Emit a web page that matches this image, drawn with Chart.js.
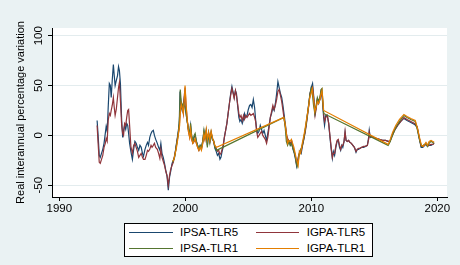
<!DOCTYPE html>
<html>
<head>
<meta charset="utf-8">
<script src="https://cdn.jsdelivr.net/npm/chart.js@4.4.0/dist/chart.umd.min.js"></script>
<style>
  html, body { margin: 0; padding: 0; background: #eaf2f3; }
  #wrap { position: relative; width: 460px; height: 265px; background: #eaf2f3; }
  #legend { position: absolute; left: 124px; top: 222.5px; width: 249px; height: 34.5px;
            box-sizing: border-box; border: 1px solid #000; background: #fff; }
  .lg-line { position: absolute; height: 0; border-top: 1.2px solid; }
  .lg-text { position: absolute; font: 11.5px "Liberation Sans", Arial, sans-serif;
             line-height: 13px; color: #000; white-space: nowrap; }
</style>
</head>
<body>
<div id="wrap">
  <canvas id="chart" width="460" height="265"></canvas>
  <div id="legend"></div>
</div>
<script>
// series names and colours (Stata s2color)
const seriesLabels = ["IPSA-TLR5", "IGPA-TLR5", "IPSA-TLR1", "IGPA-TLR1"];
const seriesColors = ["#1a476f", "#90353b", "#55752f", "#e37e00"];

const xTicks = [1990, 2000, 2010, 2020];
const yTicks = [-50, 0, 50, 100];
const yTitle = "Real interannual percentage variation";

// TLR5 dates (years) and values
const yearsTLR5 = [
  1993.00, 1993.08, 1993.17, 1993.25, 1993.35, 1993.45, 1993.55, 1993.65, 1993.72, 1993.80,
  1993.88, 1993.97, 1994.05, 1994.12, 1994.20, 1994.29, 1994.36, 1994.43, 1994.52, 1994.62,
  1994.70, 1994.77, 1994.85, 1994.95, 1995.03, 1995.10, 1995.18, 1995.27, 1995.35, 1995.43,
  1995.50, 1995.58, 1995.68, 1995.80, 1995.90, 1996.00, 1996.10, 1996.20, 1996.30, 1996.40,
  1996.50, 1996.60, 1996.68, 1996.80, 1996.90, 1997.00, 1997.08, 1997.18, 1997.28, 1997.36,
  1997.46, 1997.55, 1997.65, 1997.78, 1997.88, 1997.98, 1998.06, 1998.15, 1998.25, 1998.35,
  1998.45, 1998.55, 1998.65, 1998.75, 1998.84, 1998.95, 1999.05, 1999.15, 1999.25, 1999.35,
  1999.45, 1999.52, 1999.58, 1999.66, 1999.75, 1999.85, 1999.92, 1999.98, 2000.06, 2000.15,
  2000.25, 2000.35, 2000.42, 2000.50, 2000.60, 2000.70, 2000.78, 2000.88, 2000.98, 2001.08,
  2001.18, 2001.28, 2001.38, 2001.48, 2001.56, 2001.66, 2001.75, 2001.85, 2001.95, 2002.05,
  2002.15, 2002.25, 2002.35, 2002.45, 2002.55, 2002.65, 2002.75, 2002.83, 2002.92, 2003.00,
  2003.10, 2003.20, 2003.30, 2003.40, 2003.50, 2003.60, 2003.70, 2003.78, 2003.88, 2003.98,
  2004.06, 2004.15, 2004.25, 2004.33, 2004.42, 2004.52, 2004.62, 2004.70, 2004.80, 2004.90,
  2005.00, 2005.10, 2005.20, 2005.30, 2005.40, 2005.50, 2005.58, 2005.66, 2005.75, 2005.85,
  2005.95, 2006.05, 2006.15, 2006.25, 2006.35, 2006.45, 2006.55, 2006.65, 2006.75, 2006.85,
  2006.95, 2007.05, 2007.15, 2007.25, 2007.35, 2007.45, 2007.55, 2007.65, 2007.75, 2007.85,
  2007.95, 2008.05, 2008.15, 2008.25, 2008.35, 2008.45, 2008.55, 2008.65, 2008.75, 2008.84,
  2008.92, 2009.00, 2009.10, 2009.20, 2009.30, 2009.40, 2009.50, 2009.60, 2009.70, 2009.80,
  2009.90, 2010.00, 2010.10, 2010.20, 2010.30, 2010.38, 2010.48, 2010.58, 2010.68, 2010.78,
  2010.88, 2010.98, 2011.05, 2011.15, 2011.27, 2011.38, 2011.48, 2011.58, 2011.67, 2011.75,
  2011.85, 2011.95, 2012.05, 2012.14, 2012.24, 2012.33, 2012.42, 2012.50, 2012.60, 2012.68,
  2012.76, 2012.86, 2012.96, 2013.06, 2013.18, 2013.30, 2013.42, 2013.55, 2013.65, 2013.75,
  2013.87, 2014.00, 2014.15, 2014.30, 2014.45, 2014.55, 2014.60, 2014.68, 2014.80, 2014.95,
  2015.15, 2015.40, 2015.65, 2015.90, 2016.10, 2016.24, 2016.40, 2016.60, 2016.85, 2017.10,
  2017.35, 2017.60, 2017.90, 2018.20, 2018.40, 2018.55, 2018.72, 2018.85, 2019.00, 2019.10,
  2019.22, 2019.35, 2019.50, 2019.65, 2019.75
];
const ipsaTLR5 = [
  15, 0, -20, -22, -18, -14, -8, 2, 9, 4,
  28, 52, 50, 38, 55, 71, 60, 50, 55, 60,
  69, 65, 52, 15, -2, 5, 10, 6, 12, 10,
  2, -8, -16, -24, -14, -6, -8, -12, -15, -10,
  -12, -18, -21, -14, -10, -7, -10, -2, 2, 4,
  5, 0, -4, -8, -12, -15, -8, -18, -22, -28,
  -35, -41, -55, -42, -36, -28, -25, -22, -12, -4,
  5, 12, 44, 30, 25, 32, 38, 30, 22, 14,
  6, 2, 10, 0, -6, -2, 0, -6, -10, -14,
  -10, -12, -6, 4, -2, 4, -10, 2, -6, 2,
  -4, -6, -13, -16, -20, -18, -24, -22, -16, -12,
  -2, 5, 12, 22, 32, 42, 49, 44, 38, 45,
  42, 30, 18, 14, 16, 12, 16, 22, 18, 20,
  26, 30, 31, 28, 36, 28, 16, 6, 2, 4,
  10, 6, 2, 5, 0, -5, 2, 10, 18, 22,
  28, 25, 32, 42, 54, 48, 42, 38, 30, 20,
  10, -2, -8, -6, -10, -8, -14, -18, -24, -31,
  -26, -20, -16, -18, -10, -4, 4, 12, 22, 32,
  42, 48, 52, 38, 22, 28, 36, 32, 36, 44,
  36, 18, 10, 20, 20, 12, -2, -14, -23, -16,
  -20, -12, -6, -5, -12, -15, -10, -12, -6, 3,
  -5, -6, -5, -7, -8, -10, -12, -17, -14, -14,
  -13, -12, -12, -11, -10, -2, 5, -2, -1, -2,
  -3, -4, -5, -5, -6, -6, 0, 5, 10, 14,
  17, 15, 13, 11, 8, -2, -12, -12, -10, -9,
  -11, -10, -10, -9, -8
];
const igpaTLR5 = [
  10, -8, -27, -28, -24, -20, -12, -8, -3, -6,
  15, 22, 20, 25, 30, 38, 28, 20, 26, 38,
  48, 53, 35, 10, 2, 0, 12, 10, 18, 25,
  26, 10, -11, -18, -10, -8, -12, -16, -22, -20,
  -18, -22, -24, -24, -20, -15, -16, -14, -10, -12,
  -10, -8, -12, -14, -18, -23, -14, -22, -26, -30,
  -36, -40, -50, -40, -34, -30, -27, -20, -14, -5,
  2, 8, 24, 28, 30, 22, 40, 48, 30, 16,
  4, -2, 5, -4, -8, -6, -4, -8, -12, -15,
  -12, -14, -8, 1, -4, 5, -4, 2, -5, 3,
  -3, -6, -11, -13, -16, -15, -19, -18, -14, -10,
  -2, 5, 12, 22, 32, 40, 47, 43, 37, 45,
  40, 32, 22, 18, 20, 15, 20, 16, 20, 18,
  20, 22, 20, 21, 22, 18, 14, 4, -2, 0,
  2, 4, 0, -2, -4, -8, -2, 8, 18, 24,
  30, 26, 30, 36, 44, 46, 40, 34, 25, 16,
  8, 0, -4, -6, -8, -6, -12, -16, -22, -29,
  -26, -20, -18, -15, -10, -4, 2, 10, 20, 30,
  42, 46, 48, 36, 20, 26, 36, 34, 36, 44,
  38, 22, 14, 18, 20, 12, 0, -12, -22, -18,
  -18, -10, -5, -4, -10, -14, -10, -10, -6, 4,
  -5, -6, -5, -7, -8, -10, -12, -16, -14, -13,
  -13, -12, -11, -11, -10, -4, 3, -2, -1, -2,
  -3, -4, -5, -5, -6, -6, -1, 5, 10, 14,
  18, 16, 14, 12, 9, -1, -11, -11, -10, -8,
  -10, -10, -9, -9, -8
];

// TLR1 dates (with two gaps) and values
const yearsTLR1 = [
  1999.00, 1999.10, 1999.20, 1999.30, 1999.40, 1999.48, 1999.55, 1999.60, 1999.67, 1999.75,
  1999.84, 1999.92, 1999.98, 2000.06, 2000.15, 2000.25, 2000.35, 2000.42, 2000.50, 2000.60,
  2000.70, 2000.78, 2000.88, 2000.98, 2001.08, 2001.18, 2001.28, 2001.38, 2001.48, 2001.56,
  2001.66, 2001.75, 2001.85, 2001.95, 2002.05, 2002.15, 2002.25, 2002.35, 2002.48, 2007.82,
  2007.92, 2008.02, 2008.12, 2008.22, 2008.32, 2008.42, 2008.52, 2008.62, 2008.72, 2008.82,
  2008.88, 2008.96, 2009.05, 2009.15, 2009.25, 2009.38, 2009.50, 2009.62, 2009.75, 2009.88,
  2009.98, 2010.08, 2010.18, 2010.28, 2010.38, 2010.48, 2010.58, 2010.68, 2010.78, 2010.85,
  2010.98, 2016.10, 2016.24, 2016.45, 2016.70, 2017.00, 2017.35, 2017.60, 2017.90, 2018.25,
  2018.45, 2018.62, 2018.75, 2018.88, 2019.00, 2019.10, 2019.22, 2019.35, 2019.50, 2019.62,
  2019.75
];
const ipsaTLR1 = [
  -27, -24, -18, -10, -2, 6, 20, 46, 35, 28,
  32, 30, 28, 22, 14, 6, 2, 12, 0, -6,
  0, 2, -6, -10, -14, -10, -12, -6, 5, -2,
  4, -12, 2, -7, 3, -4, -5, -12, -15, 18,
  10, -6, -10, -6, -10, -8, -12, -16, -20, -28,
  -31, -26, -18, -14, -12, -4, 4, 14, 26, 40,
  47, 42, 30, 22, 30, 38, 34, 38, 46, 47,
  22, -10, -7, 0, 8, 14, 20, 18, 16, 14,
  4, -6, -11, -10, -9, -8, -11, -8, -6, -7,
  -8
];
const igpaTLR1 = [
  -26, -24, -18, -12, -4, 4, 10, 22, 32, 28,
  22, 35, 50, 32, 16, 4, -2, 6, -3, -8,
  -6, -3, -8, -12, -15, -12, -15, -8, 1, -4,
  6, -4, 3, -5, 4, -2, -6, -10, -12, 18,
  12, 2, -8, -5, -6, -4, -8, -12, -18, -24,
  -26, -30, -16, -18, -10, -2, 6, 16, 26, 38,
  42, 47, 36, 24, 28, 34, 32, 36, 42, 45,
  25, -9, -5, 3, 10, 16, 21, 19, 17, 15,
  6, -4, -10, -11, -9, -7, -10, -6, -5, -6,
  -7
];

const FONT = '"Liberation Sans", Arial, sans-serif';
Chart.defaults.font.family = FONT;
Chart.defaults.color = "#000";

function pts(xs, ys) {
  return xs.map((x, i) => ({ x: x, y: ys[i] }));
}

const seriesData = [
  pts(yearsTLR5, ipsaTLR5),
  pts(yearsTLR5, igpaTLR5),
  pts(yearsTLR1, ipsaTLR1),
  pts(yearsTLR1, igpaTLR1),
];

// white plot region + rotated y tick labels, like Stata
const plotBg = {
  id: "plotBg",
  beforeDraw(chart) {
    const { ctx, chartArea: a } = chart;
    ctx.save();
    ctx.fillStyle = "#fff";
    ctx.fillRect(a.left, a.top, a.right - a.left, a.bottom - a.top);
    ctx.restore();
  },
  afterDraw(chart) {
    const ctx = chart.ctx;
    const y = chart.scales.y;
    ctx.save();
    ctx.font = "11.5px " + FONT;
    ctx.fillStyle = "#000";
    ctx.textAlign = "center";
    ctx.textBaseline = "middle";
    yTicks.forEach((v) => {
      ctx.save();
      ctx.translate(38.5, y.getPixelForValue(v));
      ctx.rotate(-Math.PI / 2);
      ctx.fillText(String(v), 0, 0);
      ctx.restore();
    });
    ctx.restore();
  },
};

new Chart(document.getElementById("chart"), {
  type: "line",
  data: {
    datasets: seriesLabels.map((lab, i) => ({
      label: lab,
      data: seriesData[i],
      borderColor: seriesColors[i],
      backgroundColor: seriesColors[i],
      borderWidth: 1.2,
      pointRadius: 0,
      tension: 0,
      fill: false,
      order: seriesLabels.length - i,
    })),
  },
  options: {
    responsive: false,
    animation: false,
    layout: { padding: { left: 0, right: 13, top: 28, bottom: 48 } },
    plugins: { legend: { display: false }, tooltip: { enabled: false } },
    scales: {
      x: {
        type: "linear",
        min: 1989.42,
        max: 2020.77,
        afterBuildTicks: (s) => { s.ticks = xTicks.map((v) => ({ value: v })); },
        afterFit: (s) => { s.height = 20; },
        ticks: { font: { size: 11.5 }, color: "#000", padding: 1, maxRotation: 0,
                 callback: (v) => String(v) },
        grid: { drawOnChartArea: false, tickLength: 4, tickColor: "#000" },
        border: { color: "#000", width: 1 },
      },
      y: {
        min: -61.8,
        max: 107.7,
        afterBuildTicks: (s) => { s.ticks = yTicks.map((v) => ({ value: v })); },
        afterFit: (s) => { s.width = 52; },
        ticks: { display: false },
        grid: { color: "#e3ecee", lineWidth: 1, tickLength: 4, tickColor: "#000" },
        border: { color: "#000", width: 1 },
        title: { display: true, text: yTitle, font: { size: 11 }, color: "#000",
                 padding: { top: 14, bottom: 0 } },
      },
    },
  },
  plugins: [plotBg],
});

// two-column legend box below the plot
const legend = document.getElementById("legend");
const boxLeft = 124, boxTop = 222.5;
seriesLabels.forEach((lab, i) => {
  const row = Math.floor(i / 2), col = i % 2;
  const line = document.createElement("div");
  line.className = "lg-line";
  line.style.borderColor = seriesColors[i];
  line.style.left = (129.3 + col * 126.7 - boxLeft - 1) + "px";
  line.style.width = "43.4px";
  line.style.top = (231.8 + row * 16 - boxTop - 1) + "px";
  legend.appendChild(line);
  const txt = document.createElement("div");
  txt.className = "lg-text";
  txt.textContent = lab;
  txt.style.left = (180 + col * 126.7 - boxLeft - 1) + "px";
  txt.style.top = (226.4 + row * 16 - boxTop - 1) + "px";
  legend.appendChild(txt);
});
</script>
</body>
</html>
